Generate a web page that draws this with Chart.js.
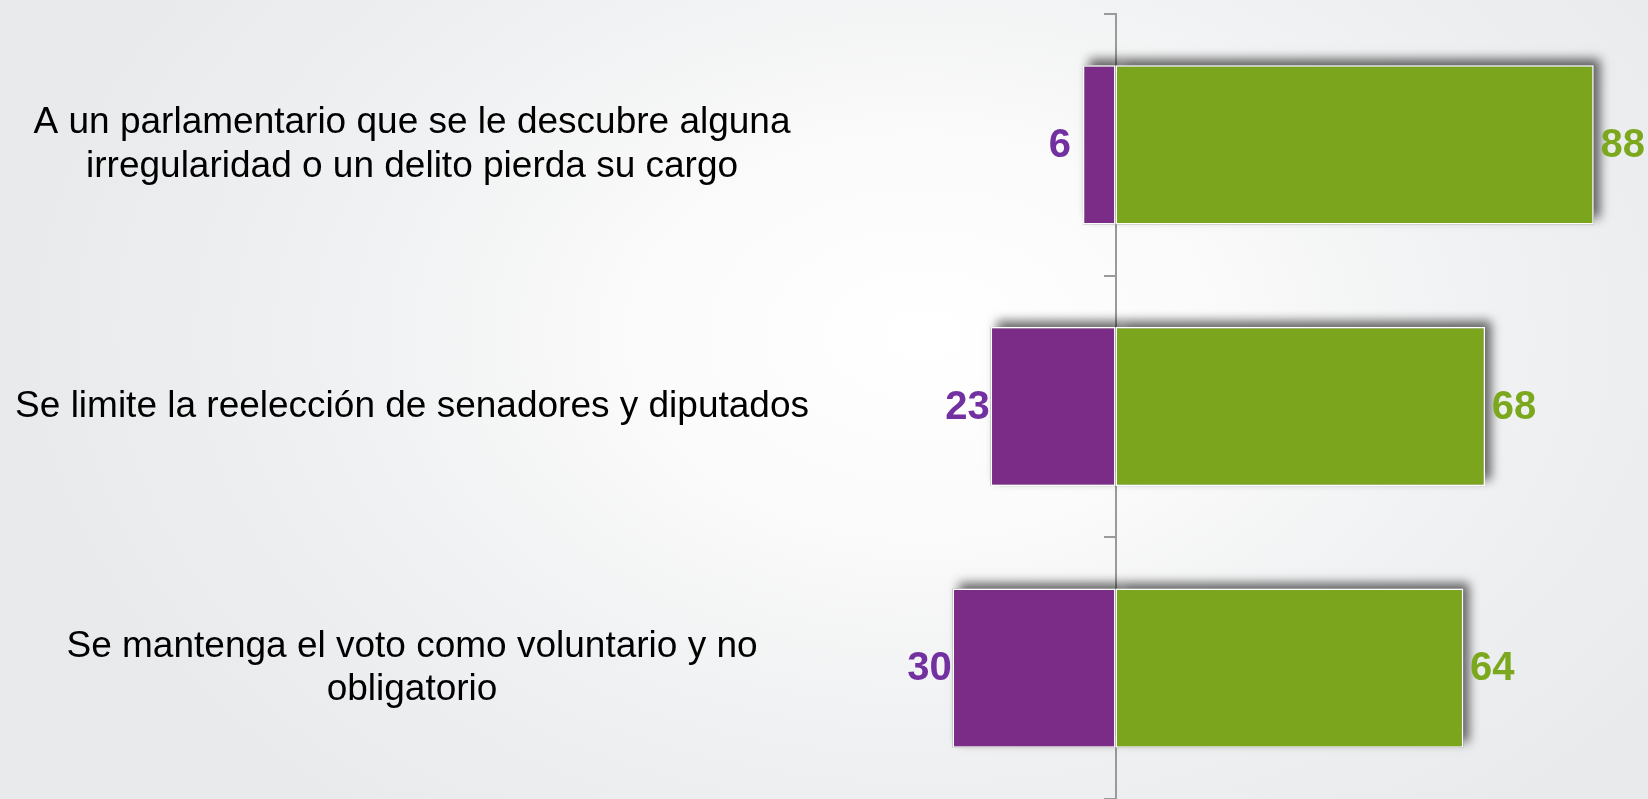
<!DOCTYPE html>
<html>
<head>
<meta charset="utf-8">
<script src="https://cdn.jsdelivr.net/npm/chart.js@4/dist/chart.umd.min.js"></script>
<style>
  html, body { margin: 0; padding: 0; }
  body {
    width: 1648px; height: 799px; overflow: hidden;
    background: radial-gradient(ellipse 900px 620px at 56% 42%, #ffffff 0%, #fbfbfb 30%, #f1f2f3 60%, #e9eaec 100%);
  }
  #wrap { position: relative; width: 1648px; height: 799px; }
</style>
</head>
<body>
<div id="wrap"><canvas id="c"></canvas></div>
<script>
// ---- data ----
const categories = [
  ["A un parlamentario que se le descubre alguna", "irregularidad o un delito pierda su cargo"],
  ["Se limite la reelección de senadores y diputados"],
  ["Se mantenga el voto como voluntario y no", "obligatorio"]
];
const disagreeValues = [6, 23, 30];   // purple (left of axis)
const agreeValues = [88, 68, 64];     // green (right of axis)
const xMin = -52;
const xMax = 98;

// ---- styles ----
const PURPLE = '#7b2c86';
const PURPLE_TEXT = '#7330a0';
const GREEN = '#7ca51e';
const GREEN_TEXT = '#7ca81e';

const shadowPlugin = {
  id: 'barShadow',
  beforeDatasetsDraw(chart) {
    const ctx = chart.ctx;
    chart.data.datasets.forEach((ds, i) => {
      const meta = chart.getDatasetMeta(i);
      meta.data.forEach(el => {
        const p = el.getProps(['x', 'y', 'base', 'height'], true);
        const left = Math.min(p.x, p.base), right = Math.max(p.x, p.base);
        const top = p.y - p.height / 2;
        ctx.save();
        ctx.shadowColor = 'rgba(0,0,0,0.6)';
        ctx.shadowBlur = 10;
        ctx.shadowOffsetX = 6;
        ctx.shadowOffsetY = -6;
        ctx.fillStyle = '#888';
        ctx.fillRect(left, top, right - left, p.height);
        ctx.restore();
      });
    });
  }
};

const valueLabelPlugin = {
  id: 'valueLabels',
  afterDatasetsDraw(chart) {
    const ctx = chart.ctx;
    ctx.save();
    ctx.font = 'bold 40px "Liberation Sans", Arial, sans-serif';
    ctx.textAlign = 'center';
    ctx.textBaseline = 'middle';
    chart.data.datasets.forEach((ds, i) => {
      const meta = chart.getDatasetMeta(i);
      meta.data.forEach((el, j) => {
        const v = ds.data[j];
        const neg = v < 0;
        ctx.fillStyle = neg ? PURPLE_TEXT : GREEN_TEXT;
        const x = neg ? el.x - 23 : el.x + 29;
        ctx.fillText(String(Math.abs(v)), x, el.y + 1);
      });
    });
    ctx.restore();
  }
};

new Chart(document.getElementById('c'), {
  type: 'bar',
  data: {
    labels: categories,
    datasets: [
      {
        label: 'En desacuerdo',
        data: disagreeValues.map(v => -v),
        backgroundColor: PURPLE,
        borderColor: '#ffffff',
        borderWidth: 1.5,
        borderSkipped: false,
        yAxisID: 'y'
      },
      {
        label: 'De acuerdo',
        data: agreeValues,
        backgroundColor: GREEN,
        borderColor: '#ffffff',
        borderWidth: 1.5,
        borderSkipped: false,
        yAxisID: 'y'
      }
    ]
  },
  options: {
    indexAxis: 'y',
    responsive: true,
    maintainAspectRatio: false,
    animation: false,
    layout: { padding: { top: 14, left: 0, right: 0, bottom: 0 } },
    categoryPercentage: 1.0,
    barPercentage: 0.608,
    plugins: {
      legend: { display: false },
      tooltip: { enabled: false }
    },
    scales: {
      x: {
        type: 'linear',
        stacked: true,
        min: xMin,
        max: xMax,
        display: false
      },
      y: {
        type: 'category',
        position: 'left',
        stacked: true,
        grid: { display: false, drawTicks: false },
        border: { display: false },
        ticks: {
          color: '#000000',
          font: { family: '"Liberation Sans", Arial, sans-serif', size: 37, lineHeight: 1.17 },
          crossAlign: 'center',
          padding: 24,
          autoSkip: false
        },
        afterFit(scale) {
          scale.width = 833;
          scale.paddingTop = 0;
          scale.paddingBottom = 0;
        }
      },
      y2: {
        type: 'category',
        axis: 'y',
        position: { x: 0 },
        grid: {
          offset: true,
          drawOnChartArea: false,
          drawTicks: true,
          tickLength: 11,
          color: '#9a9a9a',
          lineWidth: 2
        },
        border: { display: true, color: '#9a9a9a', width: 2 },
        ticks: { display: false }
      }
    }
  },
  plugins: [shadowPlugin, valueLabelPlugin]
});
</script>
</body>
</html>
